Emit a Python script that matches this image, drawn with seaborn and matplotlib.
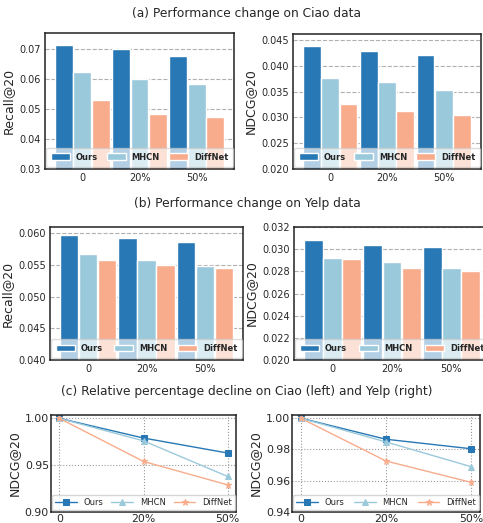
import pandas as pd
import matplotlib
matplotlib.use('Agg')
import matplotlib.pyplot as plt
import seaborn as sns

models = ['Ours', 'MHCN', 'DiffNet']
noise = ['0', '20%', '50%']
colors = ['#2878B5', '#9AC9DB', '#F8AC8C']

ciao_recall = {'Ours': [0.0711, 0.0699, 0.0675],
               'MHCN': [0.0622, 0.0599, 0.0584],
               'DiffNet': [0.0529, 0.0483, 0.0473]}
ciao_ndcg = {'Ours': [0.0439, 0.0429, 0.0422],
             'MHCN': [0.0377, 0.0368, 0.0354],
             'DiffNet': [0.0327, 0.0312, 0.0304]}
yelp_recall = {'Ours': [0.0597, 0.0592, 0.0586],
               'MHCN': [0.0567, 0.0558, 0.0549],
               'DiffNet': [0.0558, 0.0550, 0.0545]}
yelp_ndcg = {'Ours': [0.03085, 0.0304, 0.0302],
             'MHCN': [0.0292, 0.02885, 0.0283],
             'DiffNet': [0.0291, 0.0283, 0.0280]}
ciao_rel = {'Ours': [1.0, 0.979, 0.963],
            'MHCN': [1.0, 0.976, 0.938],
            'DiffNet': [1.0, 0.954, 0.929]}
yelp_rel = {'Ours': [1.0, 0.9865, 0.9804],
            'MHCN': [1.0, 0.9848, 0.9689],
            'DiffNet': [1.0, 0.9726, 0.9589]}

W, H = 483, 523


def add_ax(fig, x0, y0, x1, y1):
    # pixel box (top-left origin) -> figure fraction
    return fig.add_axes([x0 / W, 1 - y1 / H, (x1 - x0) / W, (y1 - y0) / H])


def to_long(d):
    rows = []
    for m in models:
        for n, v in zip(noise, d[m]):
            rows.append({'noise': n, 'model': m, 'value': v})
    return pd.DataFrame(rows)


def bar_panel(ax, d, ylabel, ylim, yticks, fmt):
    sns.barplot(data=to_long(d), x='noise', y='value', hue='model', hue_order=models,
                palette=colors, width=0.97, gap=0.03, saturation=1, ax=ax, zorder=2)
    ax.set_ylim(*ylim)
    ax.set_xlim(-0.65, 2.65)
    ax.set_yticks(yticks)
    ax.set_yticklabels([fmt.format(t) for t in yticks])
    ax.set_xlabel('')
    ax.set_ylabel(ylabel, fontsize=9, labelpad=3)
    ax.yaxis.grid(True, linestyle='--', color='#b0b0b0', linewidth=0.8, zorder=0)
    ax.set_axisbelow(True)
    ax.tick_params(direction='in', labelsize=7, length=3, pad=3)
    for s in ax.spines.values():
        s.set_color('#222222')
        s.set_linewidth(1.1)
    ax.legend(loc='lower left', bbox_to_anchor=(0, 0.01, 1, 0.1), mode='expand', ncol=3,
              prop={'weight': 'bold', 'size': 6}, handlelength=2.3, handleheight=0.9,
              handletextpad=0.7, borderpad=0.6, framealpha=0.65, borderaxespad=0.1)


def line_panel(ax, d, ylim, yticks, fmt):
    markers = ['s', '^', '*']
    for m, c, mk in zip(models, colors, markers):
        sns.lineplot(x=range(len(noise)), y=d[m], color=c, marker=mk, markersize=5,
                     markeredgecolor=c, linewidth=1.0, label=m, ax=ax)
    ax.set_xlim(-0.1, 2.1)
    ax.set_ylim(*ylim)
    ax.set_xticks(range(len(noise)))
    ax.set_xticklabels(noise)
    ax.set_yticks(yticks)
    ax.set_yticklabels([fmt.format(t) for t in yticks])
    ax.set_ylabel('NDCG@20', fontsize=9, labelpad=3)
    ax.grid(True, linestyle=':', color='#999999', linewidth=0.8)
    ax.tick_params(direction='in', labelsize=7.8, length=3, pad=1.5)
    for s in ax.spines.values():
        s.set_color('#222222')
        s.set_linewidth(1.1)
    ax.legend(loc='lower left', bbox_to_anchor=(0, 0.01, 1, 0.1), mode='expand', ncol=3,
              prop={'size': 6}, handlelength=2.6, borderpad=0.4, framealpha=0.8,
              borderaxespad=0.1)


sns.set_style('white')
plt.rcParams['font.family'] = ['DejaVu Sans']
fig = plt.figure(figsize=(W / 100, H / 100), dpi=100)

fig.text(247 / W, 1 - 13 / H, '(a) Performance change on Ciao data', ha='center', va='center', fontsize=8.8)
fig.text(247 / W, 1 - 203 / H, '(b) Performance change on Yelp data', ha='center', va='center', fontsize=8.8)
fig.text(247 / W, 1 - 392 / H, '(c) Relative percentage decline on Ciao (left) and Yelp (right)',
         ha='center', va='center', fontsize=8.8)

ax1 = add_ax(fig, 45, 33, 234, 169)
bar_panel(ax1, ciao_recall, 'Recall@20', (0.03, 0.0752), [0.03, 0.04, 0.05, 0.06, 0.07], '{:.2f}')
ax2 = add_ax(fig, 293, 34, 481, 169)
bar_panel(ax2, ciao_ndcg, 'NDCG@20', (0.02, 0.0462), [0.020, 0.025, 0.030, 0.035, 0.040, 0.045], '{:.3f}')
ax3 = add_ax(fig, 50, 227, 243, 360)
bar_panel(ax3, yelp_recall, 'Recall@20', (0.04, 0.061), [0.040, 0.045, 0.050, 0.055, 0.060], '{:.3f}')
ax4 = add_ax(fig, 294, 227, 490, 360)
bar_panel(ax4, yelp_ndcg, 'NDCG@20', (0.02, 0.032), [0.020, 0.022, 0.024, 0.026, 0.028, 0.030, 0.032], '{:.3f}')
ax5 = add_ax(fig, 51, 415, 236, 512)
line_panel(ax5, ciao_rel, (0.90, 1.0036), [0.90, 0.95, 1.00], '{:.2f}')
ax6 = add_ax(fig, 292, 415, 480, 512)
line_panel(ax6, yelp_rel, (0.94, 1.002), [0.94, 0.96, 0.98, 1.00], '{:.2f}')

fig.savefig('out.png', dpi=100)
